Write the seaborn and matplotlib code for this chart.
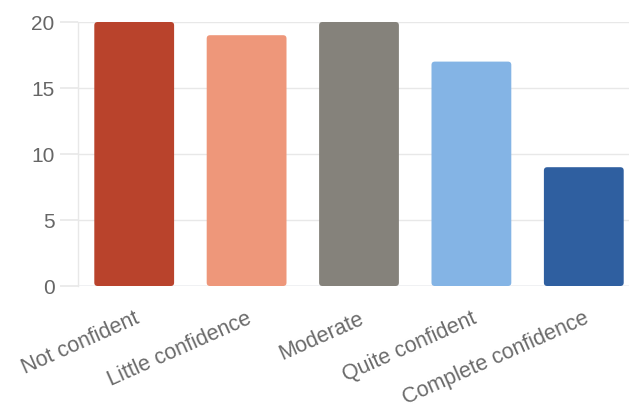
import matplotlib
matplotlib.use("Agg")
import matplotlib.pyplot as plt
from matplotlib.patches import FancyBboxPatch
import seaborn as sns
import pandas as pd

categories = ["Not confident", "Little confidence", "Moderate", "Quite confident", "Complete confidence"]
values = [20, 19, 20, 17, 9]
colors = ["#B9432C", "#EE977A", "#85827B", "#84B4E5", "#2F5FA0"]

sns.set_theme(style="white")
plt.rcParams['font.family'] = ['Liberation Sans', 'DejaVu Sans']

fig = plt.figure(figsize=(6.29, 4.13), dpi=100)
ax = fig.add_axes([78/629, 1-286/413, (640-78)/629, (286-22)/413])

df = pd.DataFrame({"cat": categories, "val": values})
sns.barplot(data=df, x="cat", y="val", hue="cat", palette=colors, legend=False,
            width=0.71, ax=ax, saturation=1)

ax.set_ylim(0, 20)
ax.set_xlim(-0.5, len(categories) - 0.5)

# rounded bar tops
for p in list(ax.patches):
    x0, y0 = p.get_x(), p.get_y()
    w, h = p.get_width(), p.get_height()
    fc = p.get_facecolor()
    p.remove()
    fb = FancyBboxPatch((x0, y0), w, h, boxstyle="round,pad=0,rounding_size=0.03",
                        mutation_aspect=8.4, facecolor=fc, edgecolor="none", zorder=2)
    ax.add_patch(fb)

ax.set_yticks([0, 5, 10, 15, 20])
ax.yaxis.grid(True, color="#e8e8e8", linewidth=1)
ax.set_axisbelow(True)
ax.set_xlabel("")
ax.set_ylabel("")
for s in ["top", "right", "bottom"]:
    ax.spines[s].set_visible(False)
ax.spines["left"].set_color("#e8e8e8")
ax.spines["left"].set_linewidth(1)
ax.axhline(0, color="#c8d0d8", linewidth=1, zorder=1)
ax.tick_params(axis="y", length=13, color="#e8e8e8", labelsize=15, labelcolor="#666666", pad=4, left=True)
ax.tick_params(axis="x", length=0, labelsize=15.5, labelcolor="#6a6a6a", pad=16)
for lbl in ax.get_xticklabels():
    lbl.set_rotation(24)
    lbl.set_ha("right")
    lbl.set_rotation_mode("anchor")

fig.savefig("out.png", dpi=100)
